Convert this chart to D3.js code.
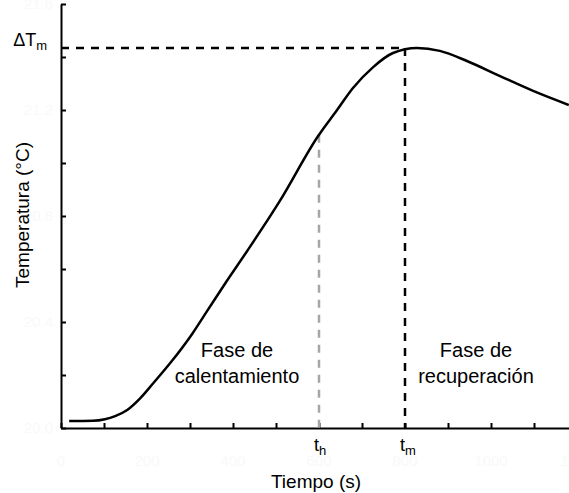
<!DOCTYPE html>
<html>
<head>
<meta charset="utf-8">
<script src="https://cdn.jsdelivr.net/npm/d3@7"></script>
<style>
  body { margin: 0; background: #fff; }
  text { font-family: "Liberation Sans", Arial, sans-serif; }
</style>
</head>
<body>
<svg id="chart" width="569" height="493"></svg>
<script>
// curve: time (s) and temperature (°C)
const tiempo = [19, 74, 102, 126, 154, 184, 214, 254, 305, 340, 384, 433, 509, 598, 642, 679, 726, 772, 828, 881, 944, 1021, 1098, 1181];
const temperatura = [20.026, 20.027, 20.033, 20.045, 20.068, 20.112, 20.168, 20.245, 20.355, 20.442, 20.551, 20.668, 20.857, 21.102, 21.200, 21.283, 21.362, 21.415, 21.434, 21.423, 21.385, 21.328, 21.272, 21.219];

const xTicks = [0, 100, 200, 300, 400, 500, 600, 700, 800, 900, 1000, 1100, 1200];
const yTicks = [20.0, 20.2, 20.4, 20.6, 20.8, 21.0, 21.2, 21.4, 21.6];

const tH = 600;       // fin fase de calentamiento
const tM = 800;       // tiempo del máximo
const deltaTm = 21.434;

const svg = d3.select('#chart');

const x = d3.scaleLinear().domain([0, 1200]).range([61, 577]);
const y = d3.scaleLinear().domain([20.0, 21.6]).range([428, 4]);

// tick labels are washed out almost to white in the original
const faint = '#f9f9f9';

// y axis
const yAxis = svg.append('g')
  .attr('transform', 'translate(61,0)')
  .call(d3.axisRight(y).tickValues(yTicks).tickSize(5).tickSizeOuter(0).tickFormat(''));
yAxis.select('.domain').attr('stroke', '#000').attr('stroke-width', 2);
yAxis.selectAll('.tick line').attr('stroke', '#000').attr('stroke-width', 2);

svg.append('g').selectAll('text')
  .data(yTicks.filter((d, i) => i % 2 === 0))
  .join('text')
  .attr('x', 53).attr('y', d => y(d) + 5)
  .attr('text-anchor', 'end')
  .attr('font-size', 15)
  .attr('fill', faint)
  .text(d => d.toFixed(1));

// x axis
const xAxis = svg.append('g')
  .attr('transform', 'translate(0,428)')
  .call(d3.axisTop(x).tickValues(xTicks).tickSize(5).tickSizeOuter(0).tickFormat(''));
xAxis.select('.domain').attr('stroke', '#000').attr('stroke-width', 2);
xAxis.selectAll('.tick line').attr('stroke', '#000').attr('stroke-width', 2);

svg.append('g').selectAll('text')
  .data(xTicks.filter((d, i) => i % 2 === 0))
  .join('text')
  .attr('x', d => x(d)).attr('y', 466)
  .attr('text-anchor', 'middle')
  .attr('font-size', 15)
  .attr('fill', faint)
  .text(d => d);

// value of the curve at a given time (linear between read points)
const tempAt = t => {
  const i = d3.bisectLeft(tiempo, t);
  const f = (t - tiempo[i - 1]) / (tiempo[i] - tiempo[i - 1]);
  return temperatura[i - 1] + f * (temperatura[i] - temperatura[i - 1]);
};

// guide lines
svg.append('line')
  .attr('x1', x(0)).attr('x2', x(tM))
  .attr('y1', y(deltaTm)).attr('y2', y(deltaTm))
  .attr('stroke', '#000').attr('stroke-width', 2.5)
  .attr('stroke-dasharray', '8,7');

svg.append('line')
  .attr('x1', x(tM)).attr('x2', x(tM))
  .attr('y1', y(deltaTm)).attr('y2', y(20.0))
  .attr('stroke', '#000').attr('stroke-width', 2.5)
  .attr('stroke-dasharray', '8,7');

svg.append('line')
  .attr('x1', x(tH)).attr('x2', x(tH))
  .attr('y1', y(tempAt(tH))).attr('y2', y(20.0))
  .attr('stroke', '#a6a6a6').attr('stroke-width', 2.5)
  .attr('stroke-dasharray', '8,7');

// the curve
const line = d3.line()
  .x((d, i) => x(tiempo[i]))
  .y(d => y(d))
  .curve(d3.curveMonotoneX);

svg.append('path')
  .datum(temperatura)
  .attr('d', line)
  .attr('fill', 'none')
  .attr('stroke', '#000')
  .attr('stroke-width', 2.5);

// labels
const lbl = (xx, yy, txt, size) => svg.append('text')
  .attr('x', xx).attr('y', yy)
  .attr('font-size', size)
  .attr('text-anchor', 'middle')
  .attr('fill', '#000')
  .text(txt);

function subLabel(xx, yy, main, sub, anchor) {
  const t = svg.append('text')
    .attr('x', xx).attr('y', yy)
    .attr('font-size', 18)
    .attr('text-anchor', anchor)
    .attr('fill', '#000');
  t.append('tspan').text(main);
  t.append('tspan').attr('font-size', 13).attr('dy', 4).text(sub);
}

subLabel(47, y(deltaTm) - 2, 'ΔT', 'm', 'end');
subLabel(x(tH) + 1, 451, 't', 'h', 'middle');
subLabel(x(tM) + 3, 451, 't', 'm', 'middle');

lbl(316, 488, 'Tiempo (s)', 19);

svg.append('text')
  .attr('transform', 'translate(29,215) rotate(-90)')
  .attr('font-size', 19)
  .attr('text-anchor', 'middle')
  .attr('fill', '#000')
  .text('Temperatura (°C)');

lbl(237, 357, 'Fase de', 20);
lbl(237, 383, 'calentamiento', 20);
lbl(476, 357, 'Fase de', 20);
lbl(476, 383, 'recuperación', 20);
</script>
</body>
</html>
